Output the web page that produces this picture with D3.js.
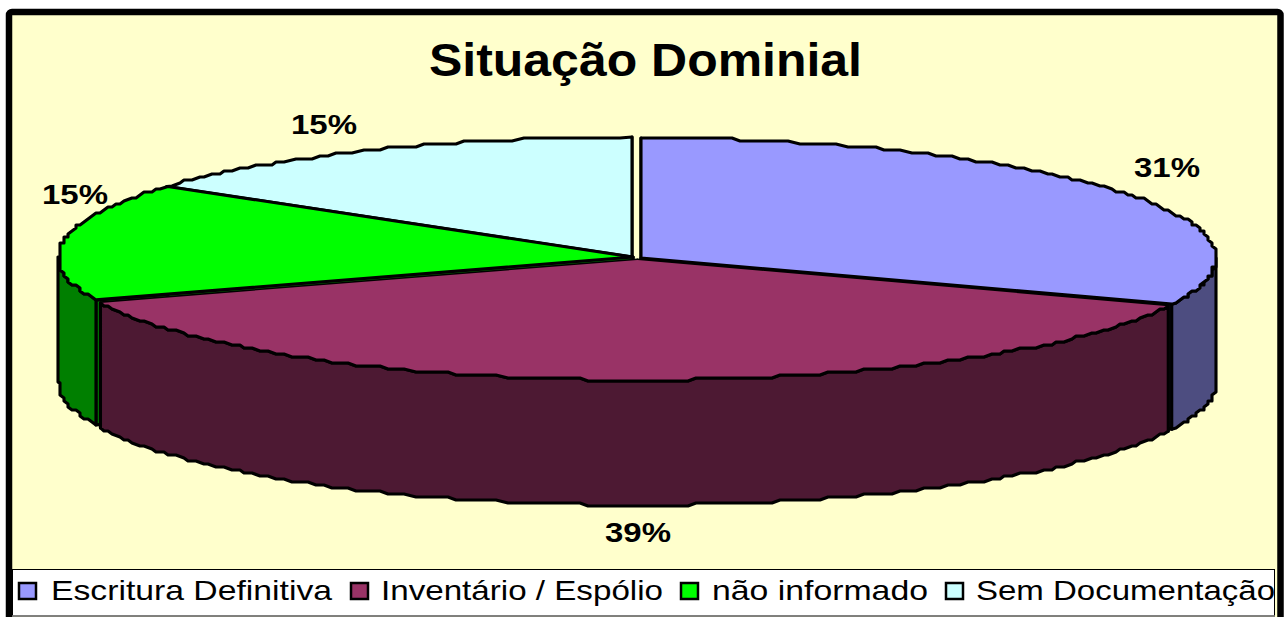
<!DOCTYPE html>
<html><head><meta charset="utf-8">
<script src="https://cdn.jsdelivr.net/npm/d3@7"></script>
<style>html,body{margin:0;padding:0;background:#fff}svg{display:block}text{font-family:"Liberation Sans",Arial,sans-serif;fill:#000}</style>
</head><body><div id="c"></div>
<script>
const categories = ["Escritura Definitiva","Inventário / Espólio","não informado","Sem Documentação"];
const values = [31,39,15,15];
const labels = ["31%","39%","15%","15%"];
const topColors = ["#9999FF","#993366","#00FF00","#CCFFFF"];
const wallColors = ["#4D4D80","#4D1933","#007F00","#668080"];
const explode = [[641,258],[637.5,260],[633,257],[632,257]];
const labelPos = [[1167,177],[638,542],[75,204],[324,134]];
const legendSwatchX = [18,350,680,945];
const legendTextX = [51,381,712,976];
const legendTextW = [281,282,216,299];

const W=1286,H=617,RX=575,RY=120,DEPTH=125;
const svg=d3.select("#c").append("svg").attr("width",W).attr("height",H);
svg.append("rect").attr("width",W).attr("height",H).attr("fill","#fff");
svg.append("rect").attr("x",9).attr("y",12).attr("width",1271.5).attr("height",620)
  .attr("rx",3).attr("fill","#FFFFCC").attr("stroke","#000").attr("stroke-width",6.5);
svg.append("rect").attr("x",12.5).attr("y",569.5).attr("width",1262).attr("height",46.5)
  .attr("fill","#fff").attr("stroke","#000").attr("stroke-width",1);
svg.append("line").attr("x1",12).attr("x2",1275).attr("y1",616).attr("y2",616).attr("stroke","#808080").attr("stroke-width",1.5);

svg.append("text").attr("x",429).attr("y",76)
  .attr("font-size",46).attr("font-weight","bold").attr("textLength",433).attr("lengthAdjust","spacingAndGlyphs").text("Situação Dominial");

const arcs=d3.pie().sort(null).value(d=>d)(values);
// perspective: the front half of the tilted pie looks compressed towards the sides
const DEG=Math.PI/180;
const warp=a=>{
  if(a<=Math.PI/2||a>=1.5*Math.PI) return a;
  return a-(a<Math.PI?1.5:5)*DEG*Math.sin(2*a);
};
const sx=d3.scaleLinear().domain([-1,1]).range([-RX,RX]);
const sy=d3.scaleLinear().domain([-1,1]).range([RY,-RY]);
const snap=(v,g)=>Math.round(v/g)*g;
const edge=(a,cx,cy)=>[cx+sx(Math.sin(warp(a))),cy+sy(Math.cos(warp(a)))];
function rim(a0,a1,cx,cy){
  const n=Math.max(2,Math.round((a1-a0)/DEG));
  return d3.range(n+1).map(i=>{
    const p=edge(a0+(a1-a0)*i/n,cx,cy);
    return (i===0||i===n)?p:[snap(p[0],4),snap(p[1],3)];
  });
}
const line=d3.line().curve(d3.curveLinear);
function styled(sel,fill){return sel.attr("fill",fill).attr("stroke","#000").attr("stroke-width",3.1).attr("stroke-linejoin","round");}
const g=svg.append("g");
function wall(i){
  const d=arcs[i],[cx,cy]=explode[i];
  [d.startAngle,d.endAngle].forEach(a=>{
    const e=edge(a,cx,cy);
    styled(g.append("path"),wallColors[i]).attr("d",line([[cx,cy],e,[e[0],e[1]+DEPTH],[cx,cy+DEPTH]])+"Z");
  });
  const a0=Math.max(d.startAngle,Math.PI/2),a1=Math.min(d.endAngle,1.5*Math.PI);
  if(a1>a0){
    const r=rim(a0,a1,cx,cy);
    const low=r.map(p=>[p[0],p[1]+DEPTH]).reverse();
    styled(g.append("path"),wallColors[i]).attr("d",line(r.concat(low))+"Z");
  }
}
function face(i){
  const d=arcs[i],[cx,cy]=explode[i];
  styled(g.append("path"),topColors[i]).attr("d",line([[cx,cy]].concat(rim(d.startAngle,d.endAngle,cx,cy)))+"Z");
}
// the front slice: its top has a black rim only, no black along the cuts
function frontFace(i){
  const d=arcs[i],[cx,cy]=explode[i];
  const r=rim(d.startAngle,d.endAngle,cx,cy);
  g.append("path").attr("fill",topColors[i]).attr("d",line([[cx,cy]].concat(r))+"Z");
  styled(g.append("path"),"none").attr("d",line(r));
}
[3,2,0].forEach(wall);
[3,2,0].forEach(face);
wall(1);frontFace(1);

labels.forEach((t,i)=>svg.append("text").attr("x",labelPos[i][0]-33).attr("y",labelPos[i][1])
  .attr("font-size",28).attr("font-weight","bold").attr("textLength",66).attr("lengthAdjust","spacingAndGlyphs").text(t));

categories.forEach((t,i)=>{
  svg.append("rect").attr("x",legendSwatchX[i]+1).attr("y",583).attr("width",17).attr("height",16)
    .attr("fill",topColors[i]).attr("stroke","#000").attr("stroke-width",2.5);
  svg.append("text").attr("x",legendTextX[i]).attr("y",600).attr("font-size",28)
    .attr("textLength",legendTextW[i]).attr("lengthAdjust","spacingAndGlyphs").text(t);
});
</script></body></html>
